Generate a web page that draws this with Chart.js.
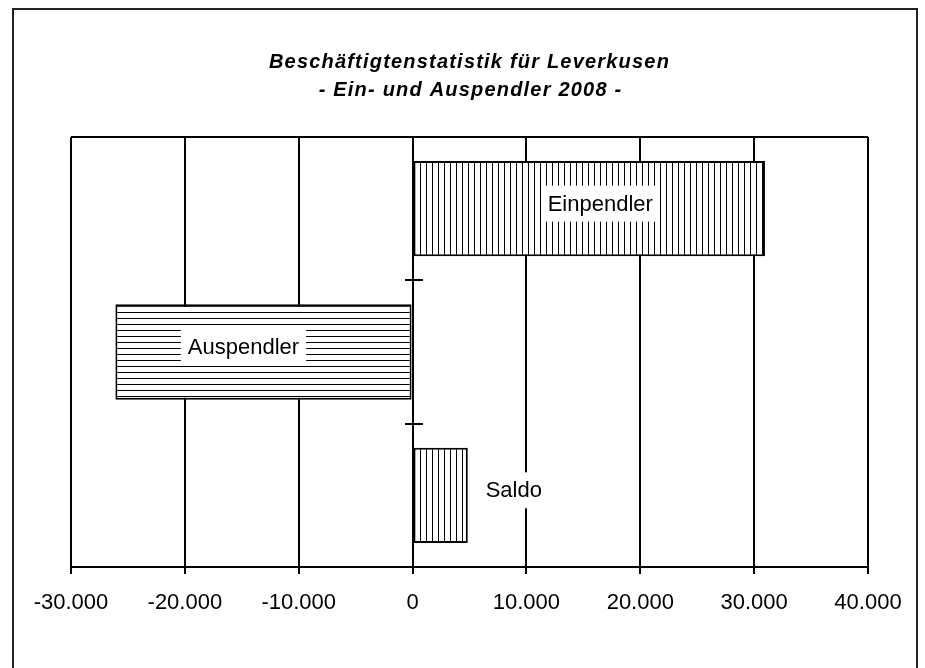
<!DOCTYPE html>
<html>
<head>
<meta charset="utf-8">
<script src="https://cdn.jsdelivr.net/npm/chart.js@4"></script>
<style>
  html, body { margin: 0; padding: 0; background: #fff; }
  #wrap { width: 925px; height: 668px; position: relative; }
</style>
</head>
<body>
<div id="wrap"><canvas id="chart" width="925" height="668"></canvas></div>
<script>
const titleLines = ['Beschäftigtenstatistik für Leverkusen', '- Ein- und Auspendler 2008 -'];
const categories = ['Einpendler', 'Auspendler', 'Saldo'];
const values = [30950, -26100, 4850];
const hatch = ['vertical', 'horizontal', 'vertical'];
const tickValues = [-30000, -20000, -10000, 0, 10000, 20000, 30000, 40000];

const FONT = '"Liberation Sans", Arial, sans-serif';

function makePattern(dir) {
  const c = document.createElement('canvas');
  c.width = 6;
  c.height = 6;
  const g = c.getContext('2d');
  g.fillStyle = '#fff';
  g.fillRect(0, 0, 6, 6);
  g.fillStyle = '#000';
  if (dir === 'vertical') g.fillRect(0, 0, 1, 6);
  else g.fillRect(0, 0, 6, 1);
  return g.createPattern(c, 'repeat');
}

function fmt(v) {
  const s = Math.abs(v).toString().replace(/\B(?=(\d{3})+(?!\d))/g, '.');
  return (v < 0 ? '-' : '') + s;
}

// label placement relative to the bar (pixels), like the Excel sheet did it
const labelOffsets = [
  { from: 'center', dx: 11, dy: -5, padX: 5 },
  { from: 'center', dx: -20, dy: -5, padX: 7 },
  { from: 'end', dx: 46, dy: -5, padX: 7 },
];

const decorations = {
  id: 'decorations',
  beforeDraw(chart) {
    const ctx = chart.ctx;
    ctx.save();
    ctx.fillStyle = '#fff';
    ctx.fillRect(0, 0, chart.width, chart.height);
    ctx.restore();
  },
  afterDatasetsDraw(chart) {
    const ctx = chart.ctx;
    const meta = chart.getDatasetMeta(0);
    ctx.save();
    ctx.font = '22px ' + FONT;
    ctx.textAlign = 'center';
    ctx.textBaseline = 'middle';
    meta.data.forEach((bar, i) => {
      const o = labelOffsets[i];
      const cx = o.from === 'center' ? (bar.x + bar.base) / 2 + o.dx : Math.max(bar.x, bar.base) + o.dx;
      const cy = bar.y + o.dy;
      const w = ctx.measureText(categories[i]).width + o.padX * 2;
      ctx.fillStyle = '#fff';
      ctx.fillRect(cx - w / 2, cy - 18, w, 36);
      ctx.fillStyle = '#000';
      ctx.fillText(categories[i], cx, cy + 1);
    });
    ctx.restore();
  },
  afterDraw(chart) {
    const ctx = chart.ctx;
    const area = chart.chartArea;
    const x = chart.scales.x;
    ctx.save();
    ctx.strokeStyle = '#000';
    ctx.lineWidth = 2;
    // top edge of the plot
    ctx.beginPath();
    ctx.moveTo(area.left, area.top);
    ctx.lineTo(area.right, area.top);
    ctx.stroke();
    // category axis at zero with crossing ticks between categories
    const x0 = Math.round(x.getPixelForValue(0));
    ctx.beginPath();
    ctx.moveTo(x0, area.top);
    ctx.lineTo(x0, area.bottom);
    const step = (area.bottom - area.top) / categories.length;
    for (let i = 0; i <= categories.length; i++) {
      const ty = Math.round(area.top + step * i);
      ctx.moveTo(x0 - 8, ty);
      ctx.lineTo(x0 + 10, ty);
    }
    ctx.stroke();
    // outer frame
    ctx.strokeStyle = '#222';
    ctx.strokeRect(13, 9, 904, 700);
    // title
    ctx.fillStyle = '#000';
    ctx.font = 'italic bold 20px ' + FONT;
    ctx.textAlign = 'center';
    ctx.textBaseline = 'middle';
    ctx.letterSpacing = '1.2px';
    const cx = (area.left + area.right) / 2;
    ctx.fillText(titleLines[0], cx, 62);
    ctx.fillText(titleLines[1], cx + 1, 90);
    ctx.restore();
  },
};

new Chart(document.getElementById('chart'), {
  type: 'bar',
  data: {
    labels: categories,
    datasets: [{
      data: values,
      backgroundColor: hatch.map(makePattern),
      borderColor: '#000',
      borderWidth: 2,
      borderSkipped: false,
      categoryPercentage: 1,
      barPercentage: 0.665,
    }],
  },
  options: {
    indexAxis: 'y',
    responsive: false,
    animation: false,
    layout: { padding: { left: 71, right: 57, top: 137, bottom: 0 } },
    plugins: {
      legend: { display: false },
      title: { display: false },
      tooltip: { enabled: false },
    },
    scales: {
      x: {
        type: 'linear',
        min: tickValues[0],
        max: tickValues[tickValues.length - 1],
        afterBuildTicks: (scale) => { scale.ticks = tickValues.map((v) => ({ value: v })); },
        afterFit: (scale) => { scale.height = 101; },
        ticks: {
          color: '#000',
          font: { family: FONT, size: 22 },
          padding: 16,
          maxRotation: 0,
          autoSkip: false,
          callback: (v) => fmt(v),
        },
        grid: { color: '#000', lineWidth: 2, tickLength: 7 },
        border: { display: true, color: '#000', width: 2 },
      },
      y: {
        type: 'category',
        afterFit: (scale) => { scale.width = 0; },
        ticks: { display: false },
        grid: { display: false },
        border: { display: false },
      },
    },
  },
  plugins: [decorations],
});
</script>
</body>
</html>
